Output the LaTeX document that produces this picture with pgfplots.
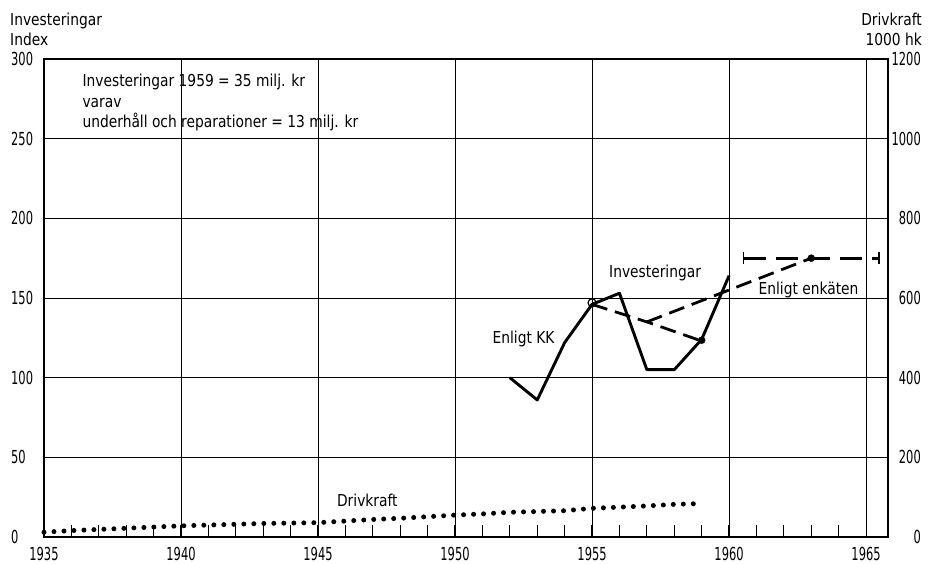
\documentclass[border=0pt]{standalone}
\usepackage{fontspec}
\setmainfont[FakeStretch=0.84]{DejaVu Sans}
\newfontfamily\tickff[FakeStretch=0.64]{DejaVu Sans}
\usepackage{pgfplots}
\pgfplotsset{compat=1.18}
\usetikzlibrary{arrows.meta}
\newcommand\lbl{\fontsize{16.5}{20.5}\selectfont}
\newcommand\tickf{\tickff\fontsize{18}{20}\selectfont}
\begin{document}
\begin{tikzpicture}
\begin{axis}[name=ax, at={(0,0)}, anchor=south west,
  scale only axis, width=844bp, height=478bp,
  xmin=1935, xmax=1965.8, ymin=0, ymax=300,
  xtick={1935,1940,...,1965}, ytick={0,50,...,300},
  minor xtick={1936,1937,...,1964},
  grid=major, major grid style={line width=0.8pt, black},
  axis line style={line width=1.6pt},
  major tick length=0pt, minor tick length=12bp, tick align=inside,
  xtick pos=bottom, ytick pos=left,
  minor tick style={black, line width=1.2pt},
  /pgf/number format/assume math mode=true,
  /pgf/number format/set thousands separator={},
  xticklabel style={font=\tickf, inner sep=0pt, anchor=north, yshift=-10bp},
  yticklabel style={font=\tickf, inner sep=0pt, anchor=west, xshift=-33bp},
  clip=false]
\draw[line width=2.8pt] (rel axis cs:0,0) -- (rel axis cs:1,0);
% Investeringar, Enligt KK
\addplot[black, line width=2.9bp, line join=round] coordinates {
 (1952,100) (1953,86) (1954,122) (1955,146) (1956,153) (1957,105) (1958,105) (1959,124) (1960,164)};
% dashed estimates
\addplot[black, line width=2.8bp, dash pattern=on 16bp off 8bp] coordinates {
 (1955,146) (1957,135) (1959,123)};
\addplot[black, line width=2.8bp, dash pattern=on 16bp off 8bp] coordinates {
 (1957,135) (1963,175)};
\addplot[black, line width=3bp, dash pattern=on 22bp off 10bp, {Bar[width=12bp,line width=1.5bp]}-{Bar[width=12bp,line width=1.5bp]}] coordinates {
 (1960.5,175) (1965.5,175)};
\addplot[only marks, mark=*, mark size=3.5bp, black] coordinates {(1963,175) (1959,123.5)};
\addplot[only marks, mark=o, mark size=4bp, black, line width=1.2pt, mark options={fill=white}] coordinates {(1955,147)};
\node[font=\lbl, anchor=north west, align=left, inner sep=0pt] at (axis cs:1936.4,290.5) {Investeringar 1959 = 35 milj. kr\\varav\\underhåll och reparationer = 13 milj. kr};
\node[font=\lbl, fill=white, inner sep=1pt] at (axis cs:1952.5,124) {Enligt KK};
\node[font=\lbl, inner sep=1pt] at (axis cs:1957.3,166) {Investeringar};
\node[font=\lbl, inner sep=1pt] at (axis cs:1962.9,155) {Enligt enkäten};
\node[font=\lbl, inner sep=1pt] at (axis cs:1946.8,23) {Drivkraft};
\end{axis}
\begin{axis}[at={(ax.south west)}, anchor=south west,
  scale only axis, width=844bp, height=478bp,
  xmin=1935, xmax=1965.8, ymin=0, ymax=1200,
  axis x line=none, axis y line*=right,
  ytick={0,200,...,1200}, major tick length=0pt,
  axis line style={line width=1.6pt},
  /pgf/number format/assume math mode=true,
  /pgf/number format/set thousands separator={},
  yticklabel style={font=\tickf, inner sep=0pt, anchor=east, xshift=33bp},
  clip=false]
\addplot[black, line width=5bp, line cap=round, dash pattern=on 0pt off 10bp] coordinates {
 (1935,12) (1936,16) (1937,19) (1938,22) (1939,25) (1940,28) (1941,30) (1942,32) (1943,34) (1944,35)
 (1945,36) (1946,40) (1947,44) (1948,47) (1949,51) (1950,55) (1951,58) (1952,62) (1953,64) (1954,66)
 (1955,72) (1956,75) (1957,78) (1958,82) (1959,84)};
\end{axis}
\node[font=\lbl, anchor=base west, align=left, inner sep=0pt] at ([xshift=-34bp,yshift=13bp]ax.north west) {Investeringar\\Index};
\node[font=\lbl, anchor=base east, align=right, inner sep=0pt] at ([xshift=34bp,yshift=13bp]ax.north east) {Drivkraft\\1000 hk};
\pgfresetboundingbox
\useasboundingbox ([xshift=-44bp,yshift=-27bp]ax.south west) rectangle ([xshift=41bp,yshift=59bp]ax.north east);
\end{tikzpicture}
\end{document}
